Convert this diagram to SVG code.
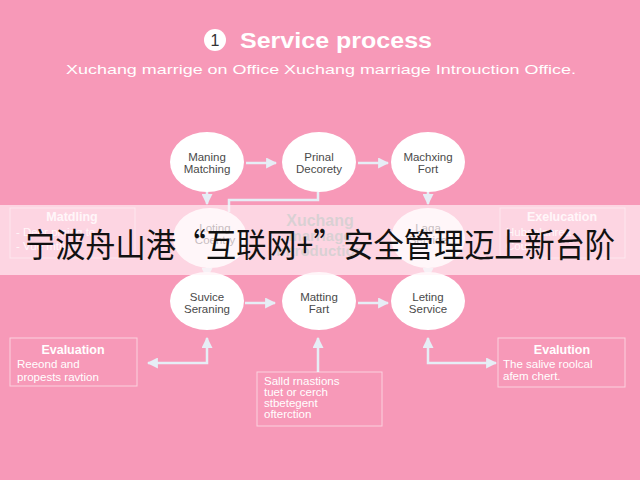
<svg xmlns="http://www.w3.org/2000/svg" width="640" height="480" viewBox="0 0 640 480">
<defs>
<marker id="ah" viewBox="0 0 10 10" refX="9" refY="5" markerWidth="11" markerHeight="11" markerUnits="userSpaceOnUse" orient="auto-start-reverse">
<path d="M0,0 L10,5 L0,10 Z" fill="#E6EEF6"/>
</marker>
<style>
.node{fill:#FFFFFF;}
.nt{font-family:"Liberation Sans",Arial,sans-serif;font-size:11.5px;fill:#4a4a4a;text-anchor:middle;}
.con{fill:none;stroke:#E6EEF6;stroke-width:2.5;}
.box{fill:none;stroke:#FFFFFF;stroke-opacity:0.55;stroke-width:1;}
.bt{font-family:"Liberation Sans",Arial,sans-serif;font-size:12.5px;font-weight:bold;fill:#FFFFFF;text-anchor:middle;}
.bl{font-family:"Liberation Sans",Arial,sans-serif;font-size:11.5px;fill:#FFFFFF;}
</style>
</defs>
<rect width="640" height="480" fill="#F799B8"/>

<g id="title">
<circle cx="215" cy="40" r="11" fill="#FFFFFF"/>
<text x="215" y="46" font-family="Liberation Sans,Arial,sans-serif" font-size="16" fill="#333" text-anchor="middle">1</text>
<text x="240" y="48" font-family="Liberation Sans,Arial,sans-serif" font-size="22" font-weight="bold" fill="#FFFFFF" textLength="192" lengthAdjust="spacingAndGlyphs">Service process</text>
<text x="66" y="74" font-family="Liberation Sans,Arial,sans-serif" font-size="13.5" fill="#FFFFFF" textLength="510" lengthAdjust="spacingAndGlyphs">Xuchang marrige on Office Xuchang marriage Introuction Office.</text>
</g>

<g id="connectors">
<path class="con" d="M246,163 H276" marker-end="url(#ah)"/>
<path class="con" d="M358,163 H388" marker-end="url(#ah)"/>
<path class="con" d="M207,192 V204" marker-end="url(#ah)"/>
<path class="con" d="M428,192 V204" marker-end="url(#ah)"/>
<path class="con" d="M318,192 V200 H229 V212"/>
<path class="con" d="M207,266 V278" marker-end="url(#ah)"/>
<path class="con" d="M428,266 V278" marker-end="url(#ah)"/>
<path class="con" d="M245,303 H275" marker-end="url(#ah)"/>
<path class="con" d="M358,303 H388" marker-end="url(#ah)"/>
<path class="con" d="M207,338 V363 H148" marker-start="url(#ah)" marker-end="url(#ah)"/>
<path class="con" d="M318,338 V372" marker-start="url(#ah)"/>
<path class="con" d="M428,338 V363 H496" marker-start="url(#ah)" marker-end="url(#ah)"/>
</g>

<g id="n1"><ellipse class="node" cx="207" cy="162" rx="37" ry="30"/><text class="nt" x="207" y="161">Maning</text><text class="nt" x="207" y="173">Matching</text></g>
<g id="n2"><ellipse class="node" cx="319" cy="162" rx="37" ry="30"/><text class="nt" x="319" y="161">Prinal</text><text class="nt" x="319" y="173">Decorety</text></g>
<g id="n3"><ellipse class="node" cx="428" cy="162" rx="37" ry="30"/><text class="nt" x="428" y="161">Machxing</text><text class="nt" x="428" y="173">Fort</text></g>

<g id="n4"><ellipse class="node" cx="210" cy="238" rx="37" ry="30"/><text class="nt" x="215" y="232">Loting</text><text class="nt" x="215" y="244">Coentry</text></g>
<g id="n5"><text x="320" y="226" font-family="Liberation Sans,Arial,sans-serif" font-size="16" font-weight="bold" fill="#8a8a8a" text-anchor="middle">Xuchang</text><text x="320" y="241" font-family="Liberation Sans,Arial,sans-serif" font-size="15" font-weight="bold" fill="#8a8a8a" text-anchor="middle">marriage</text><text x="320" y="256" font-family="Liberation Sans,Arial,sans-serif" font-size="15" font-weight="bold" fill="#8a8a8a" text-anchor="middle">introduction</text></g>
<g id="n6"><ellipse class="node" cx="428" cy="238" rx="37" ry="30"/><text class="nt" x="428" y="232">Laga</text><text class="nt" x="428" y="244">Service</text></g>
<g id="b1"><rect class="box" x="10" y="208" width="125" height="50"/><text class="bt" x="72" y="221">Matdling</text><text class="bl" x="16" y="236">- Deer pming to</text><text class="bl" x="16" y="250">- Vue mthary</text></g>
<g id="b2"><rect class="box" x="500" y="208" width="125" height="50"/><text class="bt" x="562" y="221">Exelucation</text><text class="bl" x="506" y="236">Hubsnlanrea</text><text class="bl" x="506" y="250">Couse</text></g>

<g id="n7"><ellipse class="node" cx="207" cy="301" rx="37" ry="29"/><text class="nt" x="207" y="301">Suvice</text><text class="nt" x="207" y="313">Seraning</text></g>
<g id="n8"><ellipse class="node" cx="319" cy="301" rx="37" ry="29"/><text class="nt" x="319" y="301">Matting</text><text class="nt" x="319" y="313">Fart</text></g>
<g id="n9"><ellipse class="node" cx="428" cy="301" rx="37" ry="29"/><text class="nt" x="428" y="301">Leting</text><text class="nt" x="428" y="313">Service</text></g>

<rect id="band" x="0" y="205" width="640" height="70" fill="#FFF2F6" fill-opacity="0.68"/>
<text id="caption" x="25" y="257" font-family="Noto Sans CJK SC, sans-serif" font-size="33" fill="#111111" textLength="590" lengthAdjust="spacingAndGlyphs">宁波舟山港“互联网+”安全管理迈上新台阶</text>

<g id="b3"><rect class="box" x="10" y="338" width="127" height="48"/><text class="bt" x="73" y="354">Evaluation</text><text class="bl" x="17" y="368">Reeond and</text><text class="bl" x="17" y="381">propests ravtion</text></g>
<g id="b4"><rect class="box" x="257" y="372" width="125" height="54"/><text class="bl" x="264" y="385">Salld rnastions</text><text class="bl" x="264" y="396">tuet or cerch</text><text class="bl" x="264" y="407">stbetegent</text><text class="bl" x="264" y="418">ofterction</text></g>
<g id="b5"><rect class="box" x="498" y="338" width="127" height="49"/><text class="bt" x="562" y="354">Evalution</text><text class="bl" x="503" y="368">The salive roolcal</text><text class="bl" x="503" y="380">afem chert.</text></g>
</svg>
